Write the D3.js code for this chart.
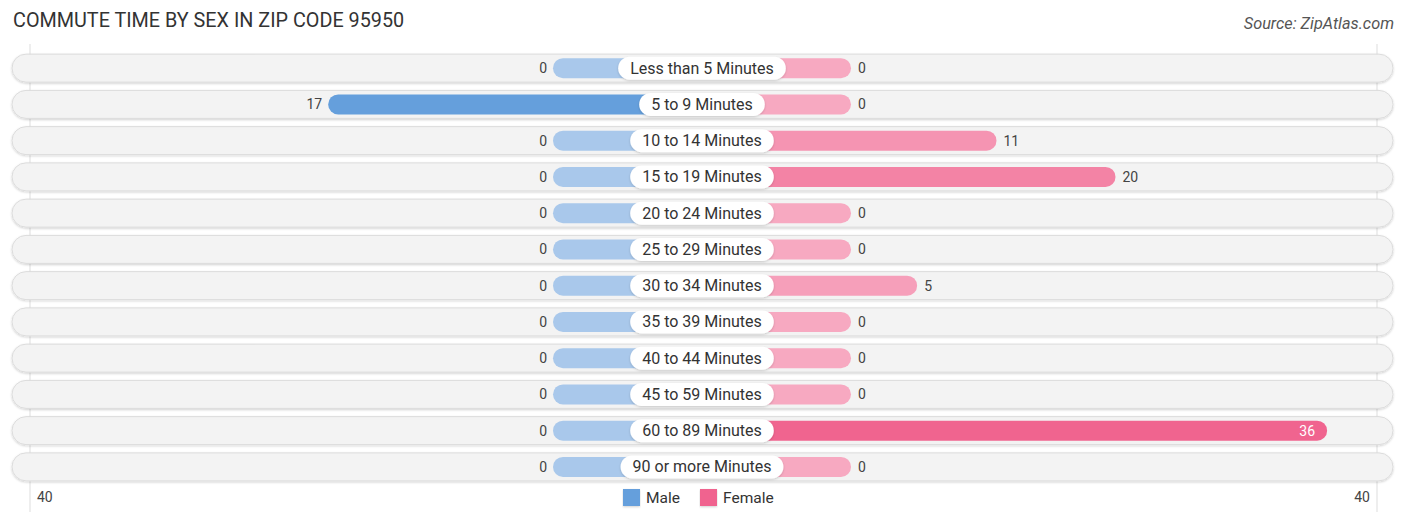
<!DOCTYPE html>
<html><head><meta charset="utf-8">
<script src="https://cdn.jsdelivr.net/npm/d3@7"></script>
<style>
body{margin:0;background:#fff;}
svg{display:block;font-family:Roboto,"Noto Sans",sans-serif;}
</style></head>
<body><svg id="chart" width="1406" height="522"></svg>
<script>
const categories = ["Less than 5 Minutes","5 to 9 Minutes","10 to 14 Minutes","15 to 19 Minutes","20 to 24 Minutes","25 to 29 Minutes","30 to 34 Minutes","35 to 39 Minutes","40 to 44 Minutes","45 to 59 Minutes","60 to 89 Minutes","90 or more Minutes"];
const male = [0,17,0,0,0,0,0,0,0,0,0,0];
const female = [0,0,11,20,0,0,5,0,0,0,36,0];
const axisMax = 40;
const axisTickLabels = ["40","40"];
const title = "COMMUTE TIME BY SEX IN ZIP CODE 95950";
const source = "Source: ZipAtlas.com";
const legendLabels = ["Male","Female"];

const svg = d3.select("#chart");
const cx = 702;
const len = d3.scaleLinear().domain([0, axisMax]).range([149, 678]);
const y = d3.scaleBand().domain(categories).range([50, 485]).paddingInner(0.2).paddingOuter(0.1);
const rowH = 28, barH = 20;

const maleColor = d3.scaleLinear().domain([0, d3.max(male)]).range(["#a9c8eb", "#659fdc"]).interpolate(d3.interpolateRgb);
const femaleColor = d3.scaleLinear().domain([0, d3.max(female)]).range(["#f7a9c1", "#f0648f"]).interpolate(d3.interpolateRgb);

const defs = svg.append("defs");
const f = defs.append("filter").attr("id","sh").attr("x","-5%").attr("y","-30%").attr("width","110%").attr("height","160%");
f.append("feDropShadow").attr("dx",0).attr("dy",1).attr("stdDeviation",1).attr("flood-color","#000").attr("flood-opacity",0.18);

// title
svg.append("text").attr("x",13).attr("y",27).attr("font-size",19.8).attr("fill","#333").text(title);
svg.append("text").attr("x",1394).attr("y",29).attr("text-anchor","end").attr("font-size",16.3).attr("font-style","italic").attr("fill","#555").text(source);

// gridlines
[cx - len(axisMax) + 6, cx + len(axisMax) - 3].forEach(x => {
  svg.append("line").attr("x1",x).attr("x2",x).attr("y1",44).attr("y2",512).attr("stroke","#ddd").attr("stroke-width",1);
});

const rows = svg.append("g").selectAll("g").data(categories).join("g")
  .attr("transform", d => `translate(0,${y(d) + y.bandwidth()/2})`);

rows.append("rect").attr("x",12).attr("y",-rowH/2).attr("width",1381).attr("height",rowH)
  .attr("rx",rowH/2).attr("fill","#f3f3f3").attr("stroke","#dcdcdc").attr("stroke-width",1).attr("filter","url(#sh)");

// male bars
rows.append("rect")
  .attr("x",(d,i)=>cx - len(male[i])).attr("y",-barH/2)
  .attr("width",(d,i)=>len(male[i]) + 20).attr("height",barH).attr("rx",barH/2)
  .attr("fill",(d,i)=>maleColor(male[i]));
// female bars
rows.append("rect")
  .attr("x",cx - 20).attr("y",-barH/2)
  .attr("width",(d,i)=>len(female[i]) + 20).attr("height",barH).attr("rx",barH/2)
  .attr("fill",(d,i)=>femaleColor(female[i]));

// labels pills
rows.each(function(d){
  const g = d3.select(this);
  const t = g.append("text").attr("x",cx).attr("y",5.5).attr("text-anchor","middle").attr("font-size",16).attr("fill","#333").text(d);
  const w = t.node().getComputedTextLength() + 24;
  g.insert("rect", "text:last-of-type").attr("x",cx - w/2).attr("y",-11.5).attr("width",w).attr("height",23).attr("rx",11.5)
    .attr("fill","#fff").attr("filter","url(#sh)");
});

// values
rows.append("text").attr("x",(d,i)=>cx - len(male[i]) - 6).attr("y",5).attr("text-anchor","end")
  .attr("font-size",14).attr("fill","#444").text((d,i)=>male[i]);
rows.append("text")
  .attr("x",(d,i)=> female[i] >= 30 ? cx + len(female[i]) - 12 : cx + len(female[i]) + 7)
  .attr("y",5).attr("text-anchor",(d,i)=> female[i] >= 30 ? "end" : "start")
  .attr("font-size",14).attr("fill",(d,i)=> female[i] >= 30 ? "#fff" : "#444").text((d,i)=>female[i]);

// axis labels
svg.append("text").attr("x",37).attr("y",502).attr("font-size",14).attr("fill","#444").text(axisTickLabels[0]);
svg.append("text").attr("x",1370).attr("y",502).attr("text-anchor","end").attr("font-size",14).attr("fill","#444").text(axisTickLabels[1]);

// legend
const leg = [{l:legendLabels[0],c:"#659fdc",x:623},{l:legendLabels[1],c:"#f0648f",x:700}];
leg.forEach(o=>{
  svg.append("rect").attr("x",o.x).attr("y",489).attr("width",17).attr("height",17).attr("fill",o.c).attr("filter","url(#sh)");
  svg.append("text").attr("x",o.x+23).attr("y",503).attr("font-size",15.5).attr("fill","#333").text(o.l);
});
</script></body></html>
